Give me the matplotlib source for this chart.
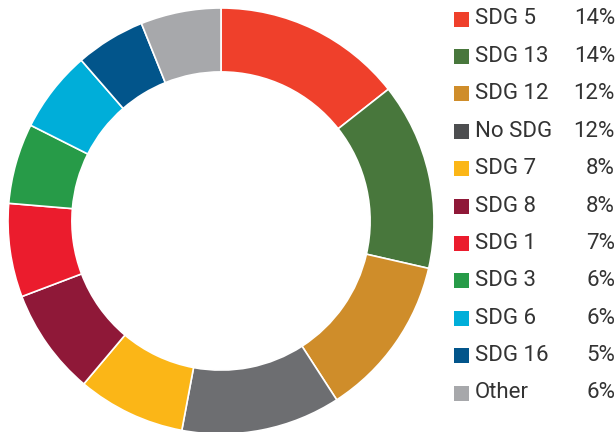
import matplotlib.pyplot as plt
from matplotlib.patches import Rectangle

labels = ['SDG 5', 'SDG 13', 'SDG 12', 'No SDG', 'SDG 7', 'SDG 8',
          'SDG 1', 'SDG 3', 'SDG 6', 'SDG 16', 'Other']
shares = [14.4, 14.2, 12.3, 12.1, 8.2, 8.1, 7.1, 6.1, 6.2, 5.3, 6.1]
pct_labels = ['14%', '14%', '12%', '12%', '8%', '8%', '7%', '6%', '6%', '5%', '6%']
colors = ['#EF402B', '#48773C', '#CF8D2A', '#6D6E71', '#FBB617', '#8F1838',
          '#EB1C2D', '#279B48', '#00AED9', '#02558B', '#A7A8AB']
# legend key for "No SDG" is a bit darker than its slice
key_colors = colors.copy()
key_colors[3] = '#4D4E50'

W, H = 616, 432
fig = plt.figure(figsize=(W / 100, H / 100), dpi=100)
ax = fig.add_axes([0, 0, 1, 1])

ax.pie(shares, colors=colors, startangle=90, counterclock=False,
       center=(221, H - 221), radius=213, frame=True,
       wedgeprops=dict(width=213 * 0.30, edgecolor='white', linewidth=1.2))
ax.set_xlim(0, W)
ax.set_ylim(0, H)
ax.set_aspect('equal')
ax.axis('off')

font = ['Liberation Sans Narrow', 'Roboto', 'DejaVu Sans']
y0, dy = 19, 37.4
for i, (lab, pct, c) in enumerate(zip(labels, pct_labels, key_colors)):
    y = H - (y0 + i * dy)
    ax.add_patch(Rectangle((454, y - 7.5), 15, 15, color=c, lw=0))
    ax.text(475, y, lab, fontsize=16, family=font, color='#333333',
            va='center', ha='left')
    ax.text(615, y, pct, fontsize=16, family=font, color='#333333',
            va='center', ha='right')

fig.savefig('out.png', dpi=100)
